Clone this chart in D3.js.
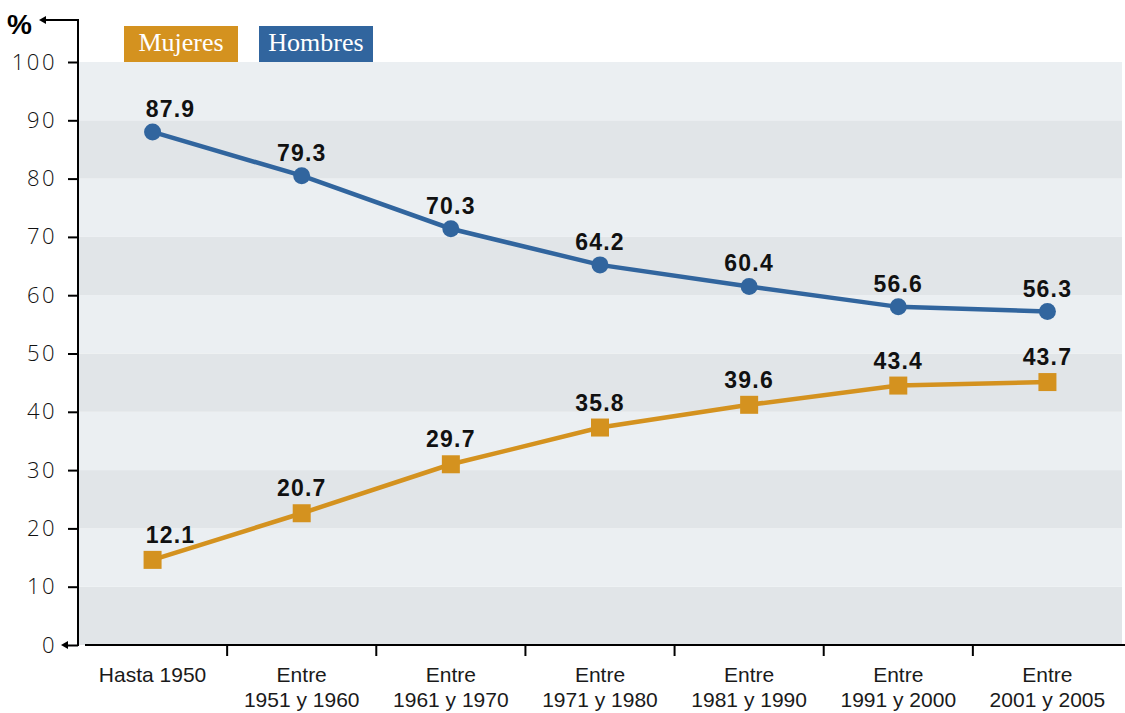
<!DOCTYPE html>
<html>
<head>
<meta charset="utf-8">
<script src="https://cdn.jsdelivr.net/npm/d3@7"></script>
<style>
  html, body { margin: 0; padding: 0; background: #ffffff; }
  svg { display: block; }
</style>
</head>
<body>
<svg id="chart" width="1125" height="713"></svg>
<script>
// ---- data ----
const categories = [
  ["Hasta 1950"],
  ["Entre", "1951 y 1960"],
  ["Entre", "1961 y 1970"],
  ["Entre", "1971 y 1980"],
  ["Entre", "1981 y 1990"],
  ["Entre", "1991 y 2000"],
  ["Entre", "2001 y 2005"]
];
const seriesNames = ["Mujeres", "Hombres"];
// plotted positions
const mujeres = [14.6, 22.6, 31.0, 37.3, 41.2, 44.5, 45.1];
const hombres = [88.0, 80.5, 71.4, 65.2, 61.5, 58.0, 57.2];
// printed value labels
const mujeresLabels = ["12.1", "20.7", "29.7", "35.8", "39.6", "43.4", "43.7"];
const hombresLabels = ["87.9", "79.3", "70.3", "64.2", "60.4", "56.6", "56.3"];
const yTicks = [0, 10, 20, 30, 40, 50, 60, 70, 80, 90, 100];

(function () {
// ---- layout ----
const colors = { Mujeres: "#D4921F", Hombres: "#31659E" };
const svg = d3.select("#chart");
const pLeft = 78, pRight = 1122, pTop = 62, pBottom = 645;

const x = d3.scaleBand().domain(d3.range(categories.length)).range([pLeft, pRight]).padding(0);
const y = d3.scaleLinear().domain([0, 100]).range([pBottom, pTop]);
const cx = i => x(i) + x.bandwidth() / 2;

// background bands
const bands = d3.range(0, 100, 10);
svg.append("g").selectAll("rect").data(bands).join("rect")
  .attr("x", pLeft)
  .attr("width", pRight - pLeft)
  .attr("y", d => y(d + 10))
  .attr("height", d => y(d) - y(d + 10))
  .attr("fill", d => (d / 10) % 2 === 0 ? "#E1E5E8" : "#EBEFF2");

// y axis
const yAxis = svg.append("g")
  .attr("transform", `translate(${pLeft},0)`)
  .call(d3.axisLeft(y).tickValues(yTicks).tickSize(10).tickPadding(11).tickFormat(d3.format("d")));
yAxis.select(".domain").remove();
yAxis.selectAll(".tick line").attr("stroke", "#000").attr("stroke-width", 2);
yAxis.selectAll(".tick text")
  .attr("fill", "#111")
  .style("font-family", "'Open Sans', sans-serif")
  .style("font-weight", "300")
  .style("font-size", "22px")
  .style("letter-spacing", "2.5px");

// vertical axis line with top arrow
svg.append("line").attr("x1", pLeft).attr("x2", pLeft).attr("y1", 20).attr("y2", pBottom + 1)
  .attr("stroke", "#000").attr("stroke-width", 2);
svg.append("line").attr("x1", 44).attr("x2", pLeft + 1).attr("y1", 20).attr("y2", 20)
  .attr("stroke", "#000").attr("stroke-width", 2);
svg.append("path").attr("d", "M39,20 L46,16 L46,24 Z").attr("fill", "#000");
svg.append("text").attr("x", 7).attr("y", 34).text("%")
  .style("font-family", "'Liberation Sans', Arial, sans-serif")
  .style("font-weight", "bold").style("font-size", "28px").attr("fill", "#000");

// bottom arrow at zero
svg.append("path").attr("d", `M61,${pBottom} L68,${pBottom - 4} L68,${pBottom + 4} Z`).attr("fill", "#000");

// x axis
svg.append("line").attr("x1", 85).attr("x2", 1125).attr("y1", pBottom).attr("y2", pBottom)
  .attr("stroke", "#000").attr("stroke-width", 2);
const tickPos = d3.range(1, categories.length).map(i => x(i));
svg.append("g").selectAll("line").data(tickPos).join("line")
  .attr("x1", d => d).attr("x2", d => d).attr("y1", pBottom).attr("y2", pBottom + 11)
  .attr("stroke", "#000").attr("stroke-width", 2);

// category labels: one text element per line
const catLines = categories.flatMap((lines, i) => lines.map((t, j) => ({ i, j, t })));
svg.append("g").selectAll("text").data(catLines).join("text")
  .attr("x", d => cx(d.i))
  .attr("y", d => 682 + d.j * 25)
  .attr("text-anchor", "middle")
  .attr("fill", "#1a1a1a")
  .style("font-family", "'Liberation Sans', Arial, sans-serif")
  .style("font-size", "21px")
  .text(d => d.t);

// lines
const line = d3.line().x((d, i) => cx(i)).y(d => y(d));
svg.append("path").datum(hombres).attr("d", line)
  .attr("fill", "none").attr("stroke", colors.Hombres).attr("stroke-width", 4.5);
svg.append("path").datum(mujeres).attr("d", line)
  .attr("fill", "none").attr("stroke", colors.Mujeres).attr("stroke-width", 4.5);

// markers
svg.append("g").selectAll("circle").data(hombres).join("circle")
  .attr("cx", (d, i) => cx(i))
  .attr("cy", d => y(d))
  .attr("r", 8.5)
  .attr("fill", colors.Hombres);
const sq = 18;
svg.append("g").selectAll("rect").data(mujeres).join("rect")
  .attr("x", (d, i) => cx(i) - sq / 2)
  .attr("y", d => y(d) - sq / 2)
  .attr("width", sq).attr("height", sq)
  .attr("fill", colors.Mujeres);

// value labels
function labels(vals, txt, dy) {
  svg.append("g").selectAll("text").data(vals).join("text")
    .attr("x", (d, i) => cx(i) + (i === 0 ? 18 : 0))
    .attr("y", d => y(d) - dy)
    .attr("text-anchor", "middle")
    .attr("fill", "#111")
    .style("font-family", "'Liberation Sans', Arial, sans-serif")
    .style("font-weight", "bold")
    .style("font-size", "23px")
    .style("letter-spacing", "1.2px")
    .text((d, i) => txt[i]);
}
labels(hombres, hombresLabels, 15);
labels(mujeres, mujeresLabels, 17);

// legend
const legend = svg.append("g");
const legX = d3.scaleOrdinal().domain(seriesNames).range([124, 259]);
seriesNames.forEach(name => {
  legend.append("rect").attr("x", legX(name)).attr("y", 26).attr("width", 114).attr("height", 36)
    .attr("fill", colors[name]);
  legend.append("text").attr("x", legX(name) + 57).attr("y", 51)
    .attr("text-anchor", "middle").attr("fill", "#fff")
    .style("font-family", "'Liberation Serif', 'DejaVu Serif', serif")
    .style("font-size", "26px")
    .text(name);
});
})();
</script>
</body>
</html>
